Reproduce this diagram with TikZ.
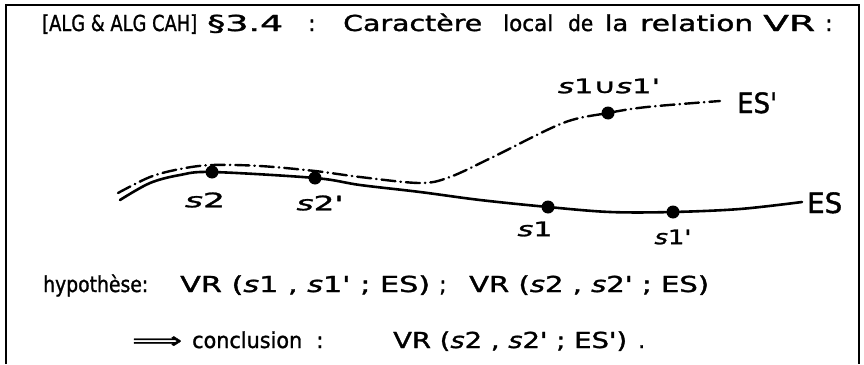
\documentclass[tikz,border=0pt]{standalone}
\usepackage{fontspec}
\setmainfont{DejaVu Sans}
\newfontfamily\hand{DejaVu Sans}[FakeBold=1.3]
\usepackage{graphicx}
\newcommand\fw[2]{\resizebox{#1pt}{\height}{#2}}
\newcommand\sv{\textit{s}}
\begin{document}
\begin{tikzpicture}[x=1pt,y=-1pt,
  ttl/.style={inner sep=0pt, anchor=base west, font=\hand\fontsize{22}{26}\selectfont},
  lbl/.style={inner sep=0pt, font=\hand\fontsize{20}{24}\selectfont},
  eslbl/.style={inner sep=0pt, anchor=base west, font=\hand\fontsize{28}{32}\selectfont},
  dotn/.style={circle, fill, inner sep=0pt, minimum size=13pt},
  solidc/.style={line width=2.6pt, line cap=round, line join=round},
  dashc/.style={line width=2.4pt, line cap=round, dash pattern=on 14pt off 5pt on 0.5pt off 5pt},
  framec/.style={line width=2.5pt}]
\useasboundingbox (0,0) rectangle (864,364);
% frame
\draw[framec] (6,364) -- (6,5) -- (859,5) -- (859,364);
% title
\node[ttl] (t1) at (42,31) {\fw{155}{[ALG \& ALG CAH]}};
\node[ttl] (t2) at (207,31) {\fw{76}{§3.4}};
\node[ttl] (t3) at (308,31) {:};
\node[ttl] (t4) at (343,31) {\fw{139}{Caractère}};
\node[ttl] (t5) at (503,31) {\fw{50}{local}};
\node[ttl] (t6) at (568,31) {\fw{25}{de}};
\node[ttl] (t7) at (605,31) {\fw{23}{la}};
\node[ttl] (t8) at (640,31) {\fw{113}{relation}};
\node[ttl] (t9) at (763,31) {\fw{52}{VR}};
\node[ttl] (t10) at (825,31) {:};
% points
\node[dotn] (s2) at (212,172) {};
\node[dotn] (s2p) at (315,178) {};
\node[dotn] (s1) at (548,207) {};
\node[dotn] (s1p) at (673,212) {};
\node[dotn] (su) at (608,113) {};
\coordinate (esA) at (120,200);
\coordinate (esB) at (802,202);
\coordinate (espA) at (118,193);
\coordinate (espB) at (720,101);
% curves
\draw[solidc] plot[smooth, tension=0.55] coordinates {(esA) (150,183) (180,175) (s2.center) (s2p.center) (360,185) (420,192) (480,200) (s1.center) (610,212) (s1p.center) (740,209) (esB)};
\draw[dashc] plot[smooth, tension=0.55] coordinates {(espA) (150,177) (180,169) (212,165) (260,166) (315,171) (360,177) (420,183) (450,177) (493,157) (563,123) (su.center) (647,107) (espB)};
% labels
\node[lbl] (ls2) at (205,200) {\fw{40}{\sv2}};
\node[lbl] (ls2p) at (320,203) {\fw{47}{\sv2'}};
\node[lbl] (ls1) at (535,229) {\fw{35}{\sv1}};
\node[lbl] (ls1p) at (673,237) {\fw{37}{\sv1'}};
\node[lbl] (lsu) at (609,86) {\fw{102}{\sv1∪\sv1'}};
\node[eslbl] (es) at (807,213) {\fw{35}{ES}};
\node[eslbl] (esp) at (737,113) {\fw{40}{ES'}};
% bottom text
\node[ttl] (h1) at (43,292) {\fw{105}{hypothèse:}};
\node[ttl] (h2) at (180,292) {\fw{250}{VR (\sv1 , \sv1' ; ES)}};
\node[ttl] (h3) at (439,292) {;};
\node[ttl] (h4) at (469,292) {\fw{240}{VR (\sv2 , \sv2' ; ES)}};
\node[ttl] (c0) at (132,348) {\fw{50}{⟹}};
\node[ttl] (c1) at (192,348) {\fw{110}{conclusion}};
\node[ttl] (c2) at (316,348) {:};
\node[ttl] (c3) at (393,348) {\fw{234}{VR (\sv2 , \sv2' ; ES')}};
\node[ttl] (c4) at (638,348) {.};
\end{tikzpicture}
\end{document}
